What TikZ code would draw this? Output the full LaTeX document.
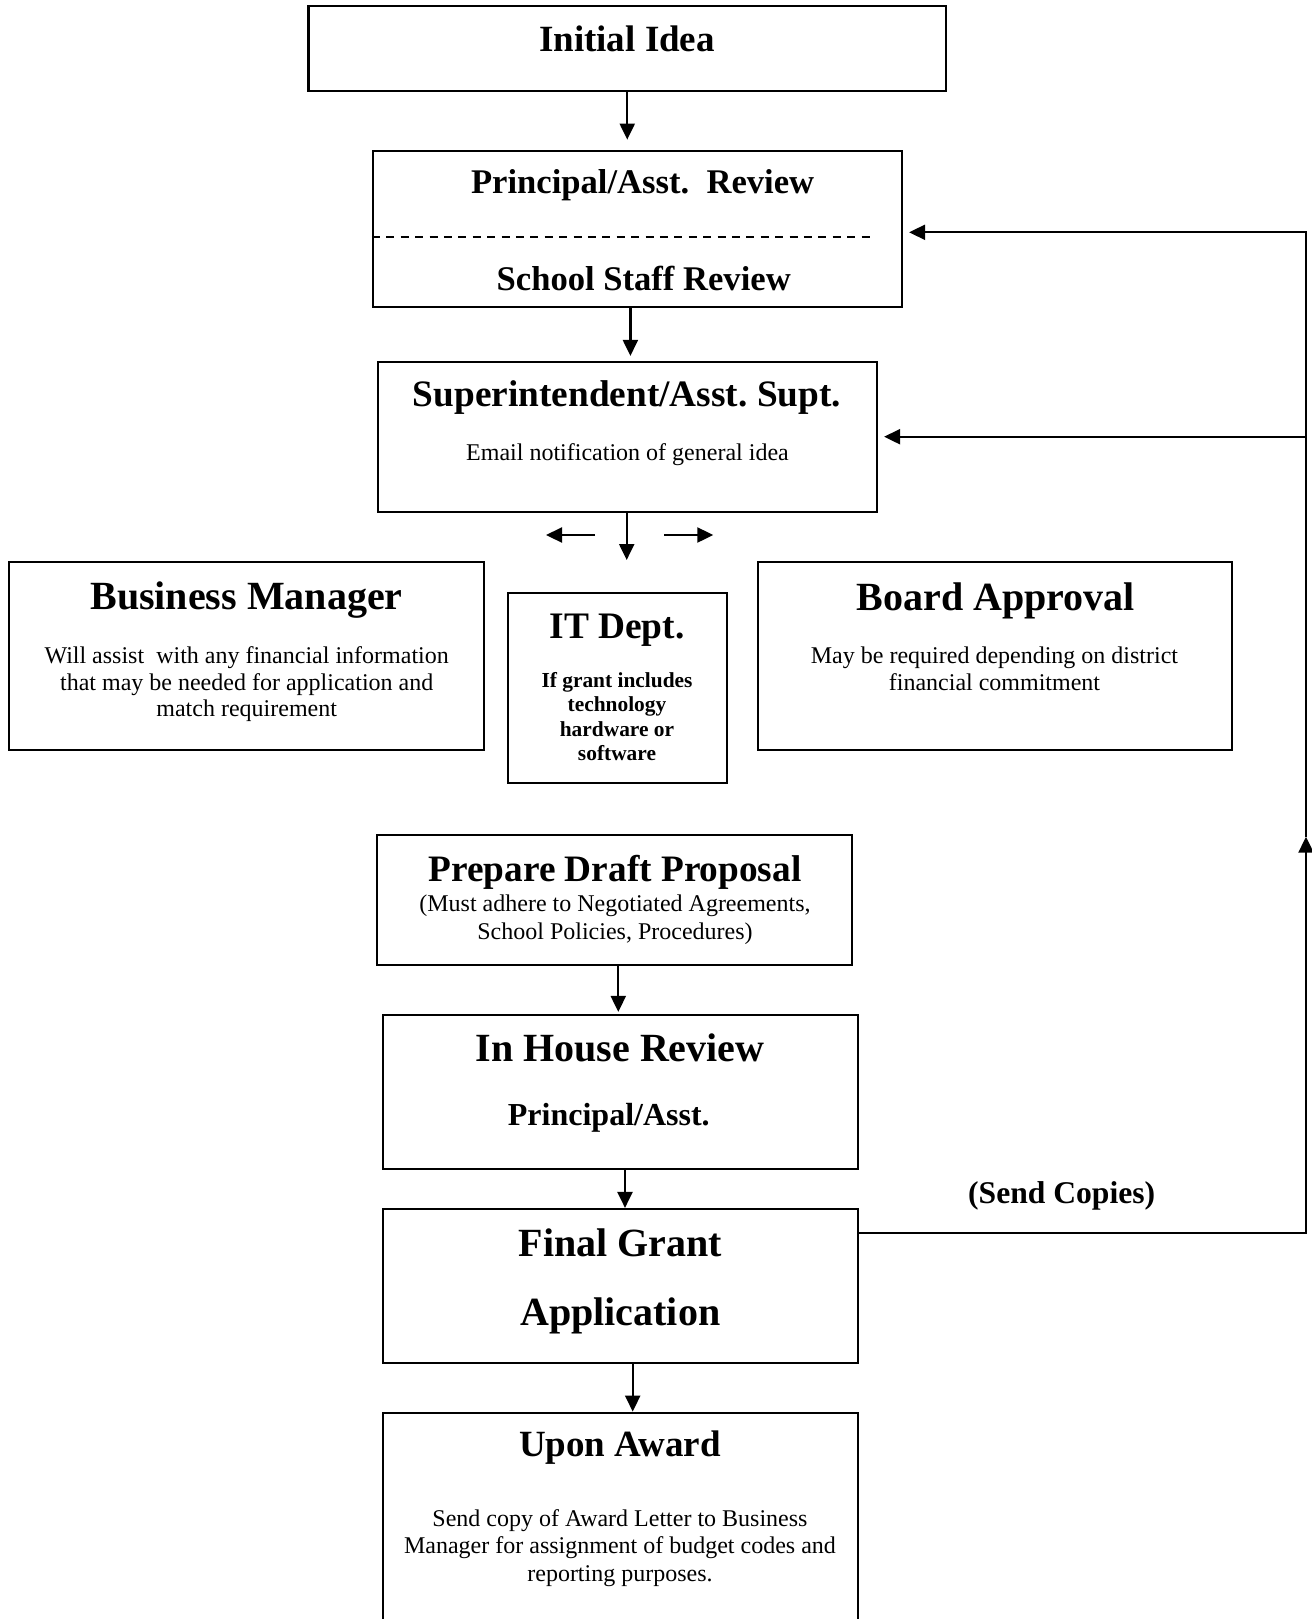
\documentclass[tikz,border=0pt]{standalone}
\usepackage{fontspec}
\setmainfont{Liberation Serif}
\usetikzlibrary{arrows.meta}
\frenchspacing
\newcommand{\myfs}[2]{\fontsize{#1}{#2}\selectfont}
\newcommand{\tlines}[3]{{\fontsize{#1}{#2}\selectfont\begin{tabular}[t]{@{}c@{}}#3\end{tabular}}}
\begin{document}
\begin{tikzpicture}[x=0.5pt,y=-0.5pt,
  box/.style={draw, line width=1.1pt, rectangle, inner sep=0pt},
  txt/.style={anchor=base, inner sep=0pt},
  arr/.style={line width=1.1pt, -{Triangle[length=8pt,width=7.5pt]}},
  plain/.style={line width=1.1pt}]
\fill[white] (0,0) rectangle (1312,1619);
\useasboundingbox (0,0) rectangle (1312,1619);
\clip (0,0) rectangle (1312,1619);

% boxes
\node[box, minimum width=318.75pt, minimum height=42.35pt] (idea) at (627.25,48.35) {};
\node[box, minimum width=264.5pt, minimum height=78.3pt] (rev) at (637.5,229) {};
\node[box, minimum width=249.5pt, minimum height=74.85pt] (supt) at (627.5,436.85) {};
\node[box, minimum width=237.35pt, minimum height=94.15pt] (bm) at (246.65,655.85) {};
\node[box, minimum width=109.5pt, minimum height=94.7pt] (it) at (617.2,688) {};
\node[box, minimum width=237.15pt, minimum height=94.15pt] (board) at (994.85,655.85) {};
\node[box, minimum width=237.5pt, minimum height=65pt] (draft) at (614.8,900) {};
\node[box, minimum width=237.2pt, minimum height=77.15pt] (inhouse) at (620.5,1092.15) {};
\node[box, minimum width=237.7pt, minimum height=76.85pt] (final) at (620.3,1285.85) {};
\node[box, minimum width=237.2pt, minimum height=113.65pt] (award) at (620.5,1526.35) {};

% texts
\node[txt] (t1) at (627,51.7) {\myfs{18.5}{22}\bfseries Initial Idea};
\node[txt] (t2) at (642.6,193.3) {\myfs{17.3}{21}\bfseries Principal/Asst.\ \ Review};
\node[txt] (t3) at (643.7,290) {\myfs{17.3}{21}\bfseries School Staff Review};
\node[txt] (t4) at (627,406.7) {\myfs{18.65}{22}\bfseries Superintendent/Asst. Supt.};
\node[txt] (t5) at (627.5,460) {\myfs{12}{14}Email notification of general idea};
\node[txt] (t6) at (246.5,609.3) {\myfs{20}{24}\bfseries Business Manager};
\node[txt] (t7) at (246.7,663.3) {\tlines{12}{13.35}{Will assist\ \ with any financial information\\that may be needed for application and\\match requirement}};
\node[txt] (t8) at (617,638.5) {\myfs{18.7}{22}\bfseries IT Dept.};
\node[txt] (t9) at (617,687.5) {\tlines{10.7}{12.2}{\bfseries If grant includes\\\bfseries technology\\\bfseries hardware or\\\bfseries software}};
\node[txt] (t10) at (996,610) {\myfs{20}{24}\bfseries Board Approval};
\node[txt] (t11) at (994.5,663.3) {\tlines{12}{13.35}{May be required depending on district\\financial commitment}};
\node[txt] (t12) at (615,881.7) {\myfs{18.65}{22}\bfseries Prepare Draft Proposal};
\node[txt] (t13) at (615,911.7) {\tlines{12}{13.8}{(Must adhere to Negotiated Agreements,\\School Policies, Procedures)}};
\node[txt] (t14) at (620,1061.7) {\myfs{20}{24}\bfseries In House Review};
\node[txt] (t15) at (608.8,1125) {\myfs{16}{19}\bfseries Principal/Asst.};
\node[txt] (t16) at (1061.7,1203.3) {\myfs{15.8}{19}\bfseries (Send Copies)};
\node[txt] (t17) at (620.3,1256.7) {\myfs{20}{24}\bfseries Final Grant};
\node[txt] (t18) at (620.3,1325) {\myfs{20}{24}\bfseries Application};
\node[txt] (t19) at (620,1456.7) {\myfs{18.5}{22}\bfseries Upon Award};
\node[txt] (t20) at (620,1526) {\tlines{12}{13.75}{Send copy of Award Letter to Business\\Manager for assignment of budget codes and\\reporting purposes.}};

% dashed divider
\coordinate (dl) at (871,236.7);
\draw[line width=0.85pt, dash pattern=on 4pt off 3.2pt] (rev.west |- dl) -- (dl);

% main connectors
\draw[arr, shorten >=5pt] (idea.south) -- (idea.south |- rev.north);
\coordinate (c2) at ([xshift=-3.55pt]rev.south);
\draw[arr, shorten >=2.5pt] (c2) -- (c2 |- supt.north);
\coordinate (c3) at (626.7,560);
\draw[arr] (supt.south -| c3) -- (c3);
\coordinate (l0) at (595,535);
\coordinate (l1) at (546,535);
\coordinate (r0) at (664.3,535);
\coordinate (r1) at (713.3,535);
\draw[arr] (l0) -- (l1);
\draw[arr] (r0) -- (r1);
\coordinate (c4) at ([xshift=1.75pt]draft.south);
\draw[arr, shorten >=1pt] (c4) -- (c4 |- inhouse.north);
\coordinate (c5) at ([xshift=2.25pt]inhouse.south);
\draw[arr] (c5) -- (c5 |- final.north);
\coordinate (c6) at ([xshift=6.2pt]final.south);
\draw[arr] (c6) -- (c6 |- award.north);

% feedback loop
\coordinate (lb) at (1306,1233.3);
\coordinate (lm) at (1306,836.7);
\coordinate (lt1) at (1306,232.3);
\coordinate (lt2) at (1306,436.7);
\draw[arr] (final.east |- lb) -- (lb) -- (lm);
\draw[arr, shorten >=3pt] (lm) -- (lt1) -- (rev.east |- lt1);
\draw[arr, shorten >=3pt] (lt2) -- (supt.east |- lt2);
\end{tikzpicture}
\end{document}
